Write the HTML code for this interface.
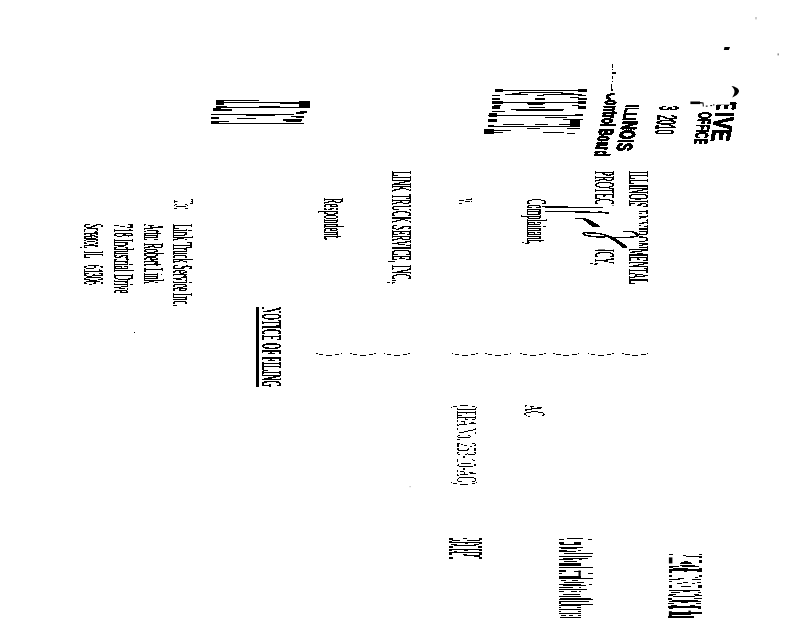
<!DOCTYPE html>
<html><head><meta charset="utf-8"><title>Notice of Filing</title>
<style>
html,body{margin:0;padding:0;background:#fff;}
body{width:800px;height:618px;position:relative;overflow:hidden;font-family:"Liberation Serif",serif;}
.t{position:absolute;color:#000;will-change:transform;transform-origin:0 0;white-space:nowrap;margin:0;padding:0;}
.sf{font-family:"Liberation Serif",serif;}
.ss{font-family:"Liberation Sans",sans-serif;}
.b{font-weight:700;}
.r{position:absolute;background:#000;}
#txt,#txt2{position:absolute;left:0;top:0;width:800px;height:618px;filter:url(#thr);}
#txt2{filter:url(#thr2);}
svg{position:absolute;left:0;top:0;}
</style></head><body>
<svg width="0" height="0" style="position:absolute"><defs><filter id="thr" x="0" y="0" width="100%" height="100%" color-interpolation-filters="sRGB"><feComponentTransfer><feFuncA type="discrete" tableValues="0 1 1"/></feComponentTransfer></filter><filter id="thr2" x="0" y="0" width="100%" height="100%" color-interpolation-filters="sRGB"><feComponentTransfer><feFuncA type="discrete" tableValues="0 0 0 1 1"/></feComponentTransfer></filter></defs></svg>
<div id="txt">
<div class="t sf" style="left:653.62px;top:171.00px;font-size:30.00px;line-height:30.00px;transform:matrix(-0.0000,0.2885,-1.0000,0,0,0);-webkit-text-stroke:0.45px #000;">ILLINOIS ENVIRONMENTAL</div>
<div class="t sf" style="left:620.12px;top:171.00px;font-size:30.00px;line-height:30.00px;transform:matrix(-0.0000,0.2927,-1.0000,0,0,0);-webkit-text-stroke:0.45px #000;">PROTECTION AGENCY,</div>
<div class="t sf" style="left:552.12px;top:199.00px;font-size:30.00px;line-height:30.00px;transform:matrix(-0.0000,0.2770,-1.0000,0,0,0);-webkit-text-stroke:0.45px #000;">Complainant,</div>
<div class="t sf" style="left:417.12px;top:171.00px;font-size:30.00px;line-height:30.00px;transform:matrix(-0.0000,0.2882,-1.0000,0,0,0);-webkit-text-stroke:0.45px #000;">LINK TRUCK SERVICE, INC.,</div>
<div class="t sf" style="left:349.12px;top:198.00px;font-size:30.00px;line-height:30.00px;transform:matrix(-0.0000,0.2816,-1.0000,0,0,0);-webkit-text-stroke:0.45px #000;">Respondent.</div>
<div class="t sf" style="left:198.12px;top:223.50px;font-size:30.00px;line-height:30.00px;transform:matrix(-0.0000,0.2895,-1.0000,0,0,0);-webkit-text-stroke:0.45px #000;">Link Truck Service Inc.</div>
<div class="t sf" style="left:169.12px;top:223.50px;font-size:30.00px;line-height:30.00px;transform:matrix(-0.0000,0.2768,-1.0000,0,0,0);-webkit-text-stroke:0.45px #000;">Attn: Robert Link</div>
<div class="t sf" style="left:138.82px;top:223.50px;font-size:30.00px;line-height:30.00px;transform:matrix(-0.0000,0.2857,-1.0000,0,0,0);-webkit-text-stroke:0.45px #000;">718 Industrial Drive</div>
<div class="t sf" style="left:109.12px;top:223.50px;font-size:30.00px;line-height:30.00px;transform:matrix(-0.0000,0.2439,-1.0000,0,0,0);-webkit-text-stroke:0.45px #000;">Streator,</div>
<div class="t sf" style="left:109.12px;top:251.40px;font-size:30.00px;line-height:30.00px;transform:matrix(-0.0000,0.2472,-1.0000,0,0,0);-webkit-text-stroke:0.45px #000;">IL</div>
<div class="t sf" style="left:109.12px;top:265.00px;font-size:30.00px;line-height:30.00px;transform:matrix(-0.0000,0.2627,-1.0000,0,0,0);-webkit-text-stroke:0.45px #000;">61306</div>
<div class="t sf b" style="left:287.42px;top:307.00px;font-size:30.00px;line-height:30.00px;transform:matrix(-0.0000,0.2851,-1.0000,0,0,0);-webkit-text-stroke:0.2px #000;">NOTICE OF FILING</div>
<div class="r" style="left:256px;top:307px;width:3px;height:80px"></div>
<div class="t ss b" style="left:738.67px;top:101.50px;font-size:25.00px;line-height:25.00px;transform:matrix(-0.0936,0.4678,-1.0000,0,0,0);-webkit-text-stroke:0.9px #000;">E</div>
<div class="t ss b" style="left:737.37px;top:112.00px;font-size:25.00px;line-height:25.00px;transform:matrix(-0.1240,0.7295,-1.0000,0,0,0);-webkit-text-stroke:0.9px #000;">IVE</div>
<div class="t ss b" style="left:714.69px;top:112.20px;font-size:19.00px;line-height:19.00px;transform:matrix(-0.0744,0.4651,-1.0000,0,0,0);-webkit-text-stroke:0.6px #000;">OFFICE</div>
<div class="t ss" style="left:681.76px;top:106.20px;font-size:27.00px;line-height:27.00px;transform:matrix(-0.0560,0.2798,-1.0000,0,0,0);-webkit-text-stroke:1.1px #000;">3</div>
<div class="t ss" style="left:680.06px;top:115.20px;font-size:27.00px;line-height:27.00px;transform:matrix(-0.0555,0.3263,-1.0000,0,0,0);-webkit-text-stroke:1.0px #000;">2010</div>
<div class="t ss b" style="left:642.09px;top:104.60px;font-size:19.00px;line-height:19.00px;transform:matrix(-0.1049,0.4560,-1.0000,0,0,0);-webkit-text-stroke:0.3px #000;">ILLI</div>
<div class="t ss b" style="left:639.80px;top:121.00px;font-size:21.50px;line-height:21.50px;transform:matrix(-0.1313,0.5707,-1.0000,0,0,0);-webkit-text-stroke:0.9px #000;">NOIS</div>
<div class="t ss b" style="left:622.91px;top:93.30px;font-size:19.50px;line-height:19.50px;transform:matrix(-0.0963,0.4814,-1.0000,0,0,0);-webkit-text-stroke:0.9px #000;">Control Board</div>
</div>
<div id="txt2">
<div class="t sf" style="left:482.12px;top:405.00px;font-size:30.00px;line-height:30.00px;transform:matrix(-0.0000,0.2877,-1.0000,0,0,0);-webkit-text-stroke:0.25px #000;">(IEPA No. 253-10-AC)</div>
<div class="t sf" style="left:199.12px;top:199.40px;font-size:30.00px;line-height:30.00px;transform:matrix(-0.0000,0.2679,-1.0000,0,0,0);-webkit-text-stroke:0.2px #000;">To:</div>
</div>
<svg width="800" height="618" viewBox="0 0 800 618" shape-rendering="auto">
<g fill="#fff">
<rect x="589" y="205.5" width="30" height="44"/>
<rect x="626" y="206" width="13" height="42.5"/>
<rect x="177.5" y="199" width="13.5" height="4"/>
<rect x="714" y="99.5" width="16" height="5.2"/>
<rect x="614.8" y="91" width="7" height="10.5"/>
</g>
<g fill="#000">
<rect x="495" y="90" width="92" height="1"/>
<rect x="495" y="89" width="8" height="3"/>
<rect x="537" y="90" width="8" height="1"/>
<rect x="578" y="89" width="9" height="3"/>
<rect x="519" y="92" width="44" height="1"/>
<rect x="512" y="93" width="9" height="1"/>
<rect x="561" y="93" width="13" height="1"/>
<rect x="505" y="94" width="23" height="1"/>
<rect x="543" y="94" width="39" height="1"/>
<rect x="492" y="95" width="8" height="1"/>
<rect x="537" y="95" width="7" height="1"/>
<rect x="578" y="95" width="8" height="1"/>
<rect x="570" y="97" width="9" height="1"/>
<rect x="492" y="98" width="8" height="2"/>
<rect x="535" y="98" width="10" height="2"/>
<rect x="578" y="98" width="9" height="2"/>
<rect x="492" y="102" width="94" height="1"/>
<rect x="492" y="101" width="11" height="3"/>
<rect x="527" y="102" width="18" height="2"/>
<rect x="578" y="101" width="8" height="3"/>
<rect x="528" y="103" width="15" height="2"/>
<rect x="572" y="105" width="7" height="1"/>
<rect x="494" y="105" width="7" height="1"/>
<rect x="492" y="106" width="8" height="3"/>
<rect x="529" y="107" width="16" height="1"/>
<rect x="578" y="106" width="8" height="3"/>
<rect x="511" y="109" width="53" height="1"/>
<rect x="516" y="110" width="47" height="1"/>
<rect x="492" y="111" width="13" height="1"/>
<rect x="488" y="115" width="95" height="1"/>
<rect x="489" y="113" width="8" height="4"/>
<rect x="575" y="114" width="8" height="2"/>
<rect x="545" y="117" width="22" height="1"/>
<rect x="563" y="119" width="20" height="1"/>
<rect x="488" y="119" width="9" height="3"/>
<rect x="570" y="120" width="10" height="6"/>
<rect x="503" y="124" width="21" height="1"/>
<rect x="535" y="124" width="13" height="1"/>
<rect x="559" y="124" width="13" height="1"/>
<rect x="488" y="126" width="92" height="1"/>
<rect x="488" y="125" width="6" height="2"/>
<rect x="527" y="128" width="13" height="1"/>
<rect x="567" y="128" width="13" height="1"/>
<rect x="484" y="130" width="27" height="1"/>
<rect x="484" y="129" width="10" height="5"/>
<rect x="494" y="132" width="9" height="1"/>
<rect x="543" y="132" width="21" height="1"/>
<rect x="567" y="133" width="8" height="1"/>
<rect x="216" y="100" width="43" height="1"/>
<rect x="216" y="100" width="8" height="5"/>
<rect x="224" y="102" width="86" height="1"/>
<rect x="280" y="102" width="30" height="2"/>
<rect x="299" y="101" width="11" height="7"/>
<rect x="301" y="102" width="6" height="1"/>
<rect x="259" y="106" width="21" height="1"/>
<rect x="216" y="106" width="11" height="1"/>
<rect x="216" y="107" width="91" height="1"/>
<rect x="213" y="109" width="19" height="2"/>
<rect x="213" y="108" width="8" height="1"/>
<rect x="300" y="111" width="7" height="2"/>
<rect x="296" y="112" width="8" height="2"/>
<rect x="211" y="114" width="83" height="1"/>
<rect x="246" y="114" width="29" height="2"/>
<rect x="291" y="116" width="13" height="1"/>
<rect x="211" y="117" width="8" height="2"/>
<rect x="296" y="117" width="8" height="1"/>
<rect x="237" y="118" width="19" height="1"/>
<rect x="283" y="119" width="19" height="2"/>
<rect x="213" y="121" width="16" height="1"/>
<rect x="286" y="121" width="15" height="1"/>
<rect x="211" y="123" width="93" height="1"/>
<rect x="211" y="121" width="8" height="2"/>
<rect x="316" y="353" width="2" height="1"/>
<rect x="319" y="354" width="4" height="1"/>
<rect x="326" y="355" width="6" height="1"/>
<rect x="335" y="354" width="4" height="1"/>
<rect x="341" y="353" width="1" height="1"/>
<rect x="350" y="353" width="2" height="1"/>
<rect x="353" y="354" width="4" height="1"/>
<rect x="360" y="355" width="6" height="1"/>
<rect x="369" y="354" width="4" height="1"/>
<rect x="374" y="353" width="2" height="1"/>
<rect x="384" y="353" width="1" height="1"/>
<rect x="387" y="354" width="4" height="1"/>
<rect x="394" y="355" width="6" height="1"/>
<rect x="403" y="354" width="4" height="1"/>
<rect x="408" y="353" width="2" height="1"/>
<rect x="452" y="353" width="1" height="1"/>
<rect x="455" y="354" width="4" height="1"/>
<rect x="462" y="355" width="6" height="1"/>
<rect x="471" y="354" width="4" height="1"/>
<rect x="476" y="353" width="2" height="1"/>
<rect x="485" y="353" width="2" height="1"/>
<rect x="488" y="354" width="4" height="1"/>
<rect x="495" y="355" width="6" height="1"/>
<rect x="504" y="354" width="4" height="1"/>
<rect x="510" y="353" width="1" height="1"/>
<rect x="520" y="353" width="2" height="1"/>
<rect x="523" y="354" width="4" height="1"/>
<rect x="530" y="355" width="6" height="1"/>
<rect x="539" y="354" width="4" height="1"/>
<rect x="544" y="353" width="2" height="1"/>
<rect x="553" y="353" width="2" height="1"/>
<rect x="556" y="354" width="5" height="1"/>
<rect x="563" y="355" width="6" height="1"/>
<rect x="572" y="354" width="5" height="1"/>
<rect x="578" y="353" width="1" height="1"/>
<rect x="588" y="353" width="1" height="1"/>
<rect x="591" y="354" width="4" height="1"/>
<rect x="598" y="355" width="6" height="1"/>
<rect x="607" y="354" width="4" height="1"/>
<rect x="612" y="353" width="2" height="1"/>
<rect x="622" y="353" width="2" height="1"/>
<rect x="625" y="354" width="5" height="1"/>
<rect x="632" y="355" width="6" height="1"/>
<rect x="641" y="354" width="5" height="1"/>
<rect x="647" y="353" width="1" height="1"/>
<rect x="449" y="538" width="4" height="2"/>
<rect x="463" y="538" width="4" height="1"/>
<rect x="479" y="538" width="3" height="2"/>
<rect x="452" y="540" width="8" height="1"/>
<rect x="467" y="540" width="13" height="1"/>
<rect x="449" y="541" width="3" height="2"/>
<rect x="449" y="542" width="33" height="1"/>
<rect x="465" y="543" width="3" height="1"/>
<rect x="479" y="543" width="3" height="1"/>
<rect x="451" y="544" width="6" height="1"/>
<rect x="474" y="544" width="5" height="1"/>
<rect x="454" y="545" width="22" height="1"/>
<rect x="449" y="546" width="4" height="2"/>
<rect x="478" y="546" width="4" height="2"/>
<rect x="452" y="549" width="28" height="1"/>
<rect x="449" y="549" width="3" height="2"/>
<rect x="464" y="550" width="4" height="1"/>
<rect x="479" y="549" width="3" height="2"/>
<rect x="454" y="551" width="3" height="1"/>
<rect x="449" y="552" width="33" height="1"/>
<rect x="449" y="553" width="3" height="2"/>
<rect x="479" y="553" width="3" height="2"/>
<rect x="463" y="554" width="4" height="1"/>
<rect x="464" y="555" width="16" height="1"/>
<rect x="474" y="556" width="6" height="1"/>
<rect x="449" y="557" width="4" height="2"/>
<rect x="479" y="557" width="3" height="2"/>
<rect x="567" y="538" width="16" height="1"/>
<rect x="559" y="539" width="5" height="1"/>
<rect x="588" y="539" width="4" height="1"/>
<rect x="559" y="542" width="5" height="2"/>
<rect x="574" y="542" width="7" height="2"/>
<rect x="560" y="544" width="21" height="1"/>
<rect x="559" y="547" width="24" height="1"/>
<rect x="561" y="548" width="16" height="1"/>
<rect x="559" y="550" width="8" height="1"/>
<rect x="578" y="550" width="3" height="1"/>
<rect x="559" y="551" width="17" height="1"/>
<rect x="564" y="553" width="29" height="1"/>
<rect x="559" y="556" width="33" height="1"/>
<rect x="563" y="558" width="25" height="1"/>
<rect x="559" y="559" width="14" height="1"/>
<rect x="579" y="559" width="3" height="1"/>
<rect x="564" y="561" width="13" height="1"/>
<rect x="559" y="563" width="22" height="2"/>
<rect x="559" y="565" width="22" height="1"/>
<rect x="559" y="567" width="34" height="1"/>
<rect x="559" y="570" width="7" height="2"/>
<rect x="574" y="571" width="7" height="1"/>
<rect x="578.5" y="570.5" width="2.2" height="6.5"/>
<rect x="559" y="573" width="3" height="1"/>
<rect x="588" y="573" width="5" height="1"/>
<rect x="559" y="576" width="22" height="2"/>
<rect x="559" y="578" width="34" height="1"/>
<rect x="561" y="580" width="5" height="1"/>
<rect x="572" y="580" width="6" height="1"/>
<rect x="564" y="582" width="20" height="1"/>
<rect x="559" y="584" width="22" height="1"/>
<rect x="589" y="584" width="3" height="1"/>
<rect x="563" y="585" width="23" height="1"/>
<rect x="559" y="587" width="10" height="1"/>
<rect x="569" y="587" width="4" height="1"/>
<rect x="579" y="587" width="2" height="1"/>
<rect x="559" y="589" width="28" height="1"/>
<rect x="559" y="591" width="5" height="1"/>
<rect x="571" y="591" width="6" height="1"/>
<rect x="579" y="591" width="2" height="1"/>
<rect x="563" y="594" width="17" height="1"/>
<rect x="559" y="596" width="22" height="1"/>
<rect x="560" y="598" width="31" height="1"/>
<rect x="559" y="599" width="34" height="1"/>
<rect x="559" y="601" width="30" height="1"/>
<rect x="559" y="602" width="2" height="2"/>
<rect x="561" y="604" width="32" height="1"/>
<rect x="559" y="605" width="22" height="1"/>
<rect x="559" y="607" width="2" height="1"/>
<rect x="577" y="607" width="4" height="1"/>
<rect x="559" y="609" width="22" height="1"/>
<rect x="559" y="611" width="2" height="1"/>
<rect x="578" y="611" width="3" height="1"/>
<rect x="559" y="613" width="22" height="1"/>
<rect x="561" y="615" width="5" height="1"/>
<rect x="569" y="615" width="4" height="1"/>
<rect x="578" y="615" width="3" height="1"/>
<rect x="560" y="617" width="21" height="1"/>
<rect x="669" y="554" width="4" height="1"/>
<rect x="699" y="554" width="3" height="1"/>
<rect x="683" y="555" width="3" height="1"/>
<rect x="686" y="556" width="16" height="1"/>
<rect x="668.9" y="557.4" width="3.5" height="6"/>
<rect x="699" y="557" width="3" height="1"/>
<rect x="699" y="560" width="3" height="3"/>
<rect x="684" y="561" width="4" height="1"/>
<rect x="681" y="562" width="10" height="1"/>
<rect x="680" y="563" width="12" height="1"/>
<rect x="680" y="565" width="15" height="1"/>
<rect x="669" y="566" width="10" height="1"/>
<rect x="669" y="566" width="4" height="2"/>
<rect x="682" y="566" width="17" height="1"/>
<rect x="673" y="568" width="15" height="1"/>
<rect x="699" y="568" width="3" height="1"/>
<rect x="669" y="569" width="33" height="2"/>
<rect x="669" y="571" width="3" height="2"/>
<rect x="684" y="571" width="3" height="1"/>
<rect x="697" y="571" width="5" height="1"/>
<rect x="669" y="575" width="3" height="2"/>
<rect x="699" y="575" width="3" height="2"/>
<rect x="695" y="577" width="3" height="1"/>
<rect x="678" y="578" width="6" height="1"/>
<rect x="669" y="579" width="11" height="1"/>
<rect x="692" y="579" width="9" height="1"/>
<rect x="669" y="581" width="3" height="1"/>
<rect x="683" y="582" width="5" height="1"/>
<rect x="697" y="582" width="4" height="1"/>
<rect x="677" y="583" width="5" height="1"/>
<rect x="692" y="583" width="3" height="1"/>
<rect x="669" y="585" width="3" height="3"/>
<rect x="698" y="585" width="4" height="3"/>
<rect x="684" y="586" width="3" height="1"/>
<rect x="681" y="586" width="10" height="1"/>
<rect x="669" y="590" width="31" height="1"/>
<rect x="683" y="591" width="7" height="1"/>
<rect x="671" y="592" width="9" height="1"/>
<rect x="698" y="592" width="3" height="1"/>
<rect x="669" y="594" width="7" height="1"/>
<rect x="694" y="594" width="5" height="1"/>
<rect x="668" y="595" width="5" height="1"/>
<rect x="695" y="595" width="7" height="1"/>
<rect x="673" y="596" width="22" height="1"/>
<rect x="668" y="598" width="4" height="2"/>
<rect x="694" y="598" width="8" height="1"/>
<rect x="672" y="600" width="26" height="1"/>
<rect x="669" y="601" width="32" height="1"/>
<rect x="681" y="602" width="7" height="1"/>
<rect x="668" y="603" width="6" height="1"/>
<rect x="696" y="603" width="5" height="1"/>
<rect x="671" y="605" width="6" height="1"/>
<rect x="690" y="605" width="5" height="1"/>
<rect x="668" y="606" width="33" height="2"/>
<rect x="684" y="607" width="3" height="1"/>
<rect x="669" y="608" width="4" height="1"/>
<rect x="698" y="608" width="3" height="1"/>
<rect x="688.4" y="610.6" width="2.4" height="2"/>
<rect x="669" y="612" width="33" height="2"/>
<rect x="668.9" y="611.2" width="3" height="4.8"/>
<rect x="672" y="614" width="19" height="1"/>
<rect x="668" y="616" width="26" height="2"/>
</g>
<g fill="none" stroke="#000" stroke-linecap="butt" filter="url(#thr)">
<path d="M541.8,206.9 L603,207.4" stroke-width="0.8"/>
<path d="M561,206.5 L567.5,206.6" stroke-width="1.4"/>
<path d="M545.2,211.6 L600,212.2" stroke-width="0.8"/>
<path d="M598,212.3 L608.8,212.7" stroke-width="1.5"/>
<path d="M575,218.4 L583.5,218.4" stroke-width="1.0"/>
<path d="M583,217.9 C588,218.6 594,222 600,226.3 L600,226.9 L592,226.6 C588,223.5 585.5,221 583,219.6 Z" fill="#000" stroke="none"/>
<ellipse cx="594.5" cy="234.9" rx="12" ry="1.7" transform="rotate(6 594.5 234.9)" stroke-width="1.3"/>
<path d="M606,235.2 L611,236 C617,239 622,243 627.6,246.4 L626.4,248.6 L622.5,247.6 C618,243.5 613,240 606,236.6 Z" fill="#000" stroke="none"/>
<path d="M623,231.5 L632.5,231.5" stroke-width="1.0"/>
<path d="M632,231.1 C636,232 638.6,233.6 639.2,235.6 L636.6,236.2 C635.6,234.4 634,233 632,232.2 Z" fill="#000" stroke="none"/>
<path d="M638.5,235.8 C634,237.4 626,237.6 611,237.5" stroke-width="1.0"/>
</g>
</g><g fill="#000">
<path d="M731.5,86 C736,86.8 739.4,89 739,91.4 C738.6,94 735.5,96 732.2,97.4 C733.6,95.2 734.6,93 734.5,91.2 C734.4,89.4 733.2,87.6 731.5,86 Z"/>
<rect x="690.4" y="101.5" width="9.6" height="2.6"/>
<path d="M700,102 L703.5,102.6 L703.8,106.4 L702.8,106.4 L702.6,103.6 L700,103.4 Z"/>
<rect x="705.8" y="105.6" width="1.8" height="1.1"/><rect x="710.3" y="105" width="1.8" height="1.1"/><rect x="713" y="104.4" width="1.4" height="1"/>
<rect x="612" y="64" width="1" height="4"/>
<rect x="612" y="69" width="1" height="1"/>
<rect x="612" y="72" width="4" height="2"/>
<rect x="612" y="76" width="1" height="3"/>
<rect x="612" y="81" width="1" height="1"/>
<rect x="611" y="84" width="1" height="5"/>
<rect x="611" y="89" width="2" height="2"/>
<rect x="459" y="200" width="5" height="1"/>
<rect x="459" y="203" width="3" height="1"/>
<rect x="466" y="199" width="5" height="1"/>
<rect x="465" y="201" width="5" height="1"/>
<rect x="471" y="198" width="1" height="2"/>
<rect x="471" y="201" width="1" height="1"/>
<rect x="525" y="405" width="2" height="1"/>
<rect x="525" y="406" width="1" height="1"/>
<rect x="530" y="406" width="4" height="1"/>
<rect x="531" y="407" width="1" height="2"/>
<rect x="537" y="407" width="5" height="1"/>
<rect x="532" y="408" width="9" height="1"/>
<rect x="525" y="409" width="7" height="1"/>
<rect x="525" y="410" width="2" height="1"/>
<rect x="531" y="411" width="7" height="1"/>
<rect x="526" y="412" width="5" height="1"/>
<rect x="538" y="412" width="5" height="1"/>
<rect x="524" y="413" width="2" height="2"/>
<rect x="543" y="413" width="1" height="1"/>
<rect x="543" y="414" width="2" height="1"/>
<rect x="542" y="415" width="2" height="1"/>
<rect x="526" y="415" width="1" height="1"/>
<rect x="528" y="416" width="2" height="1"/>
<path d="M724.5,47 L730,47 L728.8,50 L723.8,50 Z"/>
<rect x="134" y="332" width="1" height="1"/>
<rect x="755.5" y="17" width="1" height="2.4" fill="#999"/><rect x="777.5" y="53.4" width="1.4" height="2" fill="#888"/>
<rect x="409.5" y="486" width="1.2" height="1.2" fill="#bbb"/>
</svg>
</body></html>
